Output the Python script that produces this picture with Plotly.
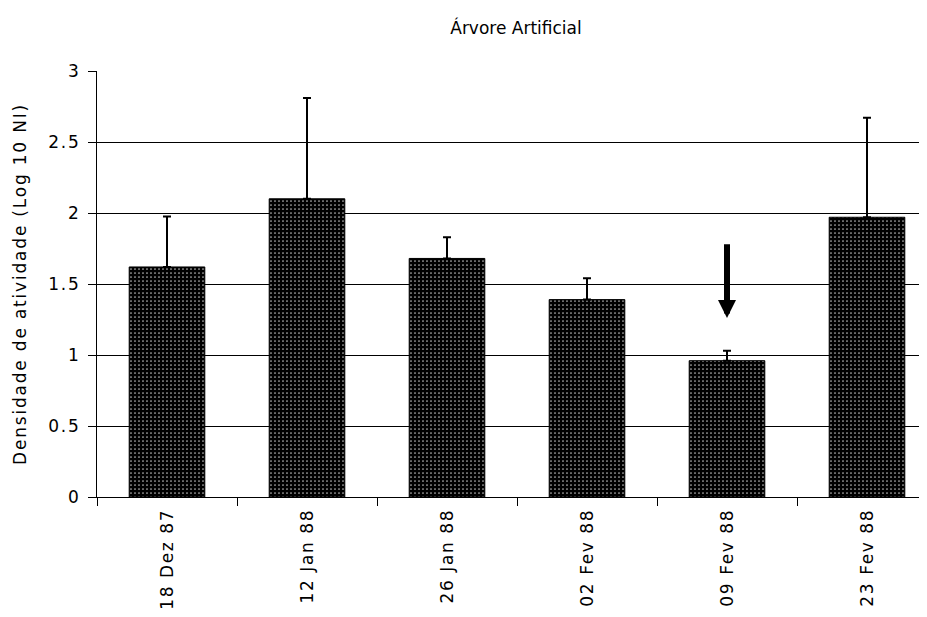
import plotly.graph_objects as go

categories = ["18 Dez 87", "12 Jan 88", "26 Jan 88", "02 Fev 88", "09 Fev 88", "23 Fev 88"]
values = [1.62, 2.10, 1.68, 1.39, 0.96, 1.97]
errors_up = [0.355, 0.71, 0.15, 0.15, 0.07, 0.70]
y_ticks = [0, 0.5, 1, 1.5, 2, 2.5, 3]
y_tick_labels = ["0", "0.5", "1", "1.5", "2", "2.5", "3"]
arrow_category = "09 Fev 88"
arrow_tip = 1.26
arrow_tail = 1.79


def spaced(s, px=1.8):
    return '<span style="letter-spacing:%spx">' % px + s + '</span>'


fig = go.Figure()
fig.add_trace(go.Bar(
    x=categories, y=values, width=0.54,
    marker=dict(color="black", line=dict(color="black", width=1),
                pattern=dict(shape=".", fgcolor="#b8b8b8", bgcolor="black",
                             size=4, solidity=0.15, fillmode="replace")),
    error_y=dict(type="data", symmetric=False, array=errors_up,
                 arrayminus=[0] * len(values), color="black",
                 thickness=2, width=4),
    showlegend=False,
))

fig.add_annotation(x=arrow_category, y=arrow_tip, ax=arrow_category, ay=arrow_tail,
                   xref="x", yref="y", axref="x", ayref="y", text="",
                   showarrow=True, arrowhead=2, arrowsize=0.6, arrowwidth=6,
                   arrowcolor="black")

font_family = "DejaVu Sans, Verdana, sans-serif"
fig.update_layout(
    width=919, height=601,
    margin=dict(l=89, r=0, t=63, b=112),
    paper_bgcolor="white", plot_bgcolor="white",
    title=dict(text="Árvore Artificial", x=508 / 919, xanchor="center",
               y=1 - 20 / 601, yanchor="middle",
               font=dict(family=font_family, size=17, color="black")),
    font=dict(family=font_family, size=17, color="black"),
)
fig.update_xaxes(
    type="category", range=[-0.5, 5.5 - 10 / 140], automargin=False,
    tickmode="array", tickvals=categories,
    ticktext=[spaced(c, 1.6) for c in categories],
    tickangle=-90, tickson="boundaries", ticks="outside", ticklen=8,
    tickcolor="black", tickwidth=1, ticklabelstandoff=4,
    showline=True, linecolor="black", linewidth=1,
    showgrid=False, tickfont=dict(family=font_family, size=17),
)
fig.update_yaxes(
    range=[0, 3], automargin=False,
    tickvals=y_ticks, ticktext=[spaced(t) for t in y_tick_labels],
    ticks="outside", ticklen=8, tickcolor="black", tickwidth=1,
    ticklabelstandoff=4,
    showline=True, linecolor="black", linewidth=1,
    showgrid=True, gridcolor="black", gridwidth=1, zeroline=False,
    title=dict(text=spaced("Densidade de atividade (Log 10 NI)"), standoff=17,
               font=dict(family=font_family, size=17)),
    tickfont=dict(family=font_family, size=17),
)

fig.write_html("out.html")
